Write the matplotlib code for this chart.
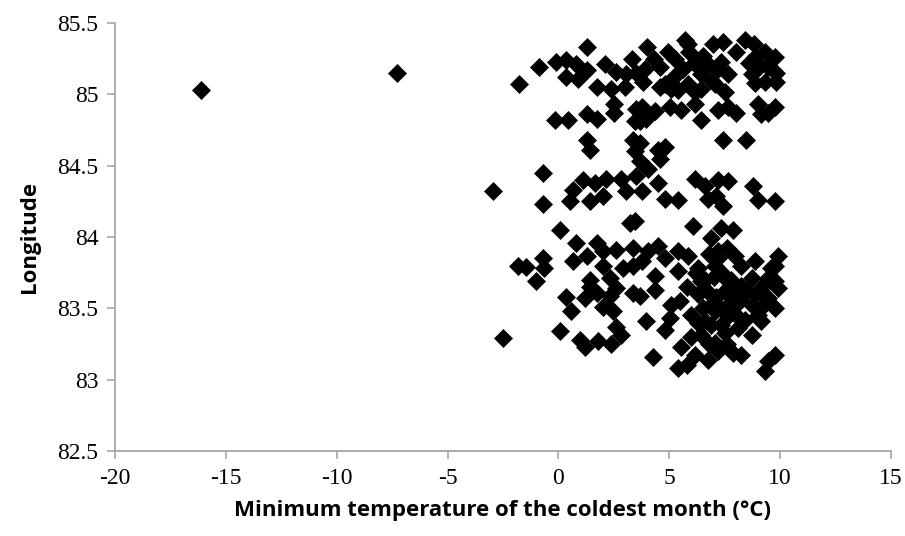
import matplotlib
matplotlib.use("Agg")
import matplotlib.pyplot as plt
from matplotlib.font_manager import FontProperties

# Minimum temperature of the coldest month (°C)
temp = [
    -16.1, -7.3, -2.97, -2.49, -1.82, -1.44, -0.99, -0.69, -0.66, -0.69, -0.69, -0.88, -1.78,
    1.29, -0.12, 0.33, 0.81, 1.27, 0.36, 0.89, 1.72, 2.12, 2.62, 3.30, 3.07, 2.39,
    -0.16, 0.44, 1.27, 1.72, 2.50, 2.50, 3.52, 3.44, 1.29, 1.42, 3.37, 3.44,
    4.00, 4.95, 5.70, 5.85, 6.97, 7.43, 8.40, 8.03, 8.85, 9.76, 9.45, 3.90, 4.57, 5.25,
    3.82, 4.80, 5.40, 5.85, 6.45, 6.75, 7.35, 7.65, 6.45, 7.05, 7.50, 8.71, 8.85, 9.31,
    9.83, 6.15, 5.10,
    3.75, 4.35, 5.02, 5.55, 6.15, 6.45, 7.20, 7.65, 8.03, 9.00, 9.16, 9.76, 9.45, 3.67, 3.97,
    7.43, 8.48, 4.49, 4.80, 3.67,
    1.11, 1.64, 0.66, 0.51, 1.42, 2.17, 2.02, 2.84, 3.07, 3.52, 3.22, 0.09, 0.81, 1.72,
    0.66, 1.27, 2.02, 2.62, 3.37, 1.42, 2.32, 2.92, 3.37, 2.02,
    4.57, 4.04, 3.67, 3.75, 4.49, 4.80, 5.40, 6.15, 6.60, 7.20, 7.65, 6.75, 7.43, 7.13,
    8.78, 9.00, 9.76, 6.07, 7.35, 7.88, 3.44,
    4.04, 4.49, 4.80, 3.75, 5.40, 5.85, 6.90, 7.20, 7.05, 7.95, 8.25, 8.85, 9.91, 9.76,
    9.45, 8.71, 4.35, 5.40, 6.30, 6.45, 7.65, 9.76,
    0.36, 1.19, 0.59, 0.06, 0.96, 1.19, 1.79, 2.39, 2.84, 2.62, 2.47, 2.02, 1.72, 2.32,
    3.37, 2.62, 1.42,
    3.97, 4.27, 4.80, 5.02, 5.55, 5.40, 5.78, 6.15, 6.75, 6.45, 7.05, 7.88, 8.25, 9.31,
    9.76, 9.45, 8.10, 8.71, 9.16, 9.76, 9.45, 9.91, 8.25, 3.67, 4.35, 5.10,
    6.00, 7.05, 7.65, 7.35, 6.60, 8.71, 9.16,
    6.3, 6.7, 7.1, 7.5, 7.9, 6.5, 6.9, 7.3, 7.7, 6.3, 6.9, 7.5, 7.2, 6.8, 7.6, 6.6, 7.0,
    7.4, 7.8, 7.2, 6.8, 7.6, 8.2, 8.5, 8.0, 8.4, 6.2, 5.8, 5.5, 6.0, 8.9, 9.2, 9.6, 9.0,
    5.2, 5.6, 6.1, 6.5, 6.9, 7.2, 5.9, 4.3, 4.6, 8.8, 9.3, 9.1, 9.8, 8.6, 3.0, 3.5,
]

# Longitude
longitude = [
    85.03, 85.15, 84.32, 83.29, 83.80, 83.79, 83.69, 84.45, 83.78, 84.23, 83.85, 85.19, 85.07,
    85.33, 85.23, 85.24, 85.21, 85.17, 85.12, 85.11, 85.05, 85.21, 85.16, 85.25, 85.14, 85.04,
    84.82, 84.82, 84.86, 84.83, 84.93, 84.87, 84.90, 84.81, 84.68, 84.61, 84.68, 84.60,
    85.33, 85.30, 85.38, 85.35, 85.35, 85.37, 85.38, 85.30, 85.26, 85.26, 85.19, 85.18, 85.19, 85.25,
    85.09, 85.07, 85.03, 85.07, 85.14, 85.21, 85.23, 85.14, 85.04, 85.07, 85.02, 85.14, 85.08, 85.09,
    85.09, 85.02, 85.04,
    84.91, 84.88, 84.91, 84.89, 84.93, 84.82, 84.89, 84.91, 84.87, 84.93, 84.86, 84.91, 84.87, 84.81, 84.83,
    84.68, 84.68, 84.61, 84.63, 84.66,
    84.40, 84.38, 84.33, 84.25, 84.25, 84.41, 84.29, 84.41, 84.32, 84.43, 84.10, 84.05, 83.96, 83.96,
    83.83, 83.87, 83.90, 83.91, 83.92, 83.70, 83.71, 83.78, 83.80, 83.80,
    84.55, 84.48, 84.53, 84.32, 84.38, 84.27, 84.26, 84.41, 84.36, 84.40, 84.39, 84.27, 84.22, 84.29,
    84.36, 84.26, 84.25, 84.08, 84.06, 84.05, 84.11,
    83.90, 83.94, 83.85, 83.83, 83.90, 83.87, 83.99, 83.90, 83.80, 83.87, 83.80, 83.83, 83.87, 83.80,
    83.71, 83.71, 83.73, 83.76, 83.78, 83.69, 83.69, 83.69,
    83.58, 83.57, 83.48, 83.34, 83.28, 83.23, 83.27, 83.25, 83.31, 83.37, 83.48, 83.51, 83.61, 83.59,
    83.61, 83.64, 83.65,
    83.41, 83.16, 83.35, 83.43, 83.23, 83.08, 83.10, 83.17, 83.14, 83.31, 83.26, 83.19, 83.17, 83.06,
    83.17, 83.13, 83.36, 83.31, 83.41, 83.50, 83.57, 83.64, 83.66, 83.59, 83.63, 83.52,
    83.45, 83.48, 83.52, 83.38, 83.41, 83.52, 83.50,
    83.60, 83.62, 83.58, 83.62, 83.60, 83.50, 83.52, 83.50, 83.45, 83.40, 83.38, 83.33, 83.20, 83.25, 83.25, 83.70, 83.72,
    83.75, 83.70, 83.85, 83.88, 83.92, 83.55, 83.62, 83.45, 83.42, 83.75, 83.65, 83.55, 83.30, 83.60, 83.65, 83.78, 83.45,
    85.12, 85.18, 85.22, 85.27, 85.10, 85.18, 85.30, 85.25, 85.05, 85.35, 85.30, 85.20, 85.15, 85.22, 85.05, 85.15,
]

x_ticks = [-20, -15, -10, -5, 0, 5, 10, 15]
y_ticks = [82.5, 83, 83.5, 84, 84.5, 85, 85.5]
y_tick_labels = ["82.5", "83", "83.5", "84", "84.5", "85", "85.5"]

fig = plt.figure(figsize=(9.05, 5.36), dpi=100)
ax = fig.add_axes([0.127, 0.1586, 0.8575, 0.7984])

ax.plot(temp, longitude, linestyle="none", marker="D", markersize=9,
        color="black", markeredgecolor="black", markeredgewidth=0.5)

ax.set_xlim(-20, 15)
ax.set_ylim(82.5, 85.5)
ax.set_xticks(x_ticks)
ax.set_xticklabels([str(t) for t in x_ticks])
ax.set_yticks(y_ticks)
ax.set_yticklabels(y_tick_labels)

axis_color = "#a6a6a6"
for s in ["top", "right"]:
    ax.spines[s].set_visible(False)
for s in ["left", "bottom"]:
    ax.spines[s].set_color(axis_color)
    ax.spines[s].set_linewidth(1.3)
ax.tick_params(axis="both", direction="out", length=6, width=1.2, color=axis_color,
               labelcolor="black", labelsize=17, pad=6,
               labelfontfamily="Liberation Serif")

ax.set_xlabel("Minimum temperature of the coldest month (°C)", fontsize=16,
              fontweight="bold", family=["Open Sans", "DejaVu Sans"], labelpad=8)
ax.set_ylabel("Longitude", fontsize=16, fontweight="bold",
              family=["Open Sans", "DejaVu Sans"], labelpad=12)

fig.canvas.draw()
serif_fp = FontProperties(family="Liberation Serif", size=17)
for lab in ax.get_xticklabels() + ax.get_yticklabels():
    lab.set_fontproperties(serif_fp)

fig.savefig("out.png", dpi=100)
